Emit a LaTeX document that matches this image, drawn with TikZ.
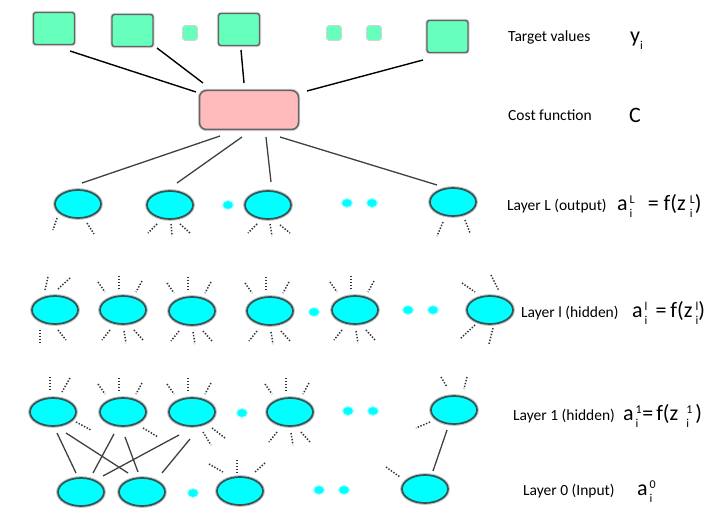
\documentclass[tikz,border=0pt]{standalone}
\usepackage{fontspec}
\setmainfont{Carlito}
\usetikzlibrary{calc,shapes.geometric}
\definecolor{mint}{RGB}{102,255,187}
\definecolor{pinkbox}{RGB}{255,187,187}
\definecolor{neur}{RGB}{0,255,255}
\definecolor{rim}{RGB}{50,85,85}
\definecolor{boxrim}{RGB}{100,100,100}
\newcommand\stub[3]{\draw[stubline] ($(#1)+(#2)$) -- ($(#1)+(#3)$);}
\newcommand\topstubs[1]{\stub{#1}{-25,-28}{-18,-18}\stub{#1}{-4,-34}{-4,-21}\stub{#1}{19,-29}{13,-18}}
\newcommand\botstubs[1]{\stub{#1}{-13,20}{-21,30}\stub{#1}{1,21}{3,33}\stub{#1}{11,20}{20,30}}
\newcommand\smallf{\fontsize{12}{12}\selectfont}
\newcommand\supsub[2]{\rlap{\raisebox{-7pt}{\smallf #2}}\raisebox{7pt}{\smallf #1}}
\begin{document}
\begin{tikzpicture}[x=1pt,y=-1pt,
  target/.style={rectangle, rounded corners=2.5pt, fill=mint, draw=boxrim, line width=1.4pt, minimum width=41pt, minimum height=32pt, inner sep=0pt, preaction={draw=gray!35, line width=3.2pt}},
  tdot/.style={rectangle, rounded corners=3pt, fill=mint, draw=gray!35, line width=0.8pt, minimum size=15pt, inner sep=0pt},
  cost/.style={rectangle, rounded corners=7pt, fill=pinkbox, draw=boxrim, line width=1.5pt, minimum width=99pt, minimum height=39pt, inner sep=0pt, preaction={draw=gray!35, line width=3.4pt}},
  neuron/.style={ellipse, fill=neur, draw=rim, line width=1.7pt, minimum width=46pt, minimum height=28pt, inner sep=0pt, preaction={draw=gray!45, line width=3.8pt}},
  ndot/.style={ellipse, fill=neur, draw=neur!35, line width=1pt, minimum width=11pt, minimum height=9pt, inner sep=0pt},
  stubline/.style={draw=black!80, line width=1.5pt, dash pattern=on 1.4pt off 1.6pt},
  wire/.style={draw=black, line width=1.4pt},
  gwire/.style={draw=black!75, line width=1.3pt},
  lbl/.style={anchor=base west, font=\fontsize{15.5}{18}\selectfont, inner sep=0pt},
  mth/.style={anchor=base west, font=\fontsize{22}{24}\selectfont, inner sep=0pt}]
\useasboundingbox (0,0) rectangle (717,524);

% targets
\node[target] (t1) at (54,28.5) {};
\node[target] (t2) at (132.5,30.5) {};
\node[tdot] (td1) at (190,33) {};
\node[target] (t3) at (239,29.5) {};
\node[tdot] (td2) at (334,33) {};
\node[tdot] (td3) at (374,33) {};
\node[target] (t4) at (447.5,36.5) {};
% cost
\node[cost] (cost) at (249,110) {};

% layer L
\node[neuron] (L1) at (78,204) {};
\node[neuron] (L2) at (170,205) {};
\node[ndot] (Ld1) at (228,205) {};
\node[neuron] (L3) at (268,205) {};
\node[ndot] (Ld2) at (347,203) {};
\node[ndot] (Ld3) at (372,203) {};
\node[neuron] (L4) at (453,202) {};

% layer l
\node[neuron] (l1) at (55,310) {};
\node[neuron] (l2) at (123,310) {};
\node[neuron] (l3) at (192,311) {};
\node[neuron] (l4) at (270,311) {};
\node[ndot] (ld1) at (314,312) {};
\node[neuron] (l5) at (355,310) {};
\node[ndot] (ld2) at (408,310) {};
\node[ndot] (ld3) at (433,310) {};
\node[neuron] (l6) at (490,310) {};

% layer 1
\node[neuron] (a1) at (53,412) {};
\node[neuron] (a2) at (123,412) {};
\node[neuron] (a3) at (192,412) {};
\node[ndot] (ad1) at (242,413) {};
\node[neuron] (a4) at (290,412) {};
\node[ndot] (ad2) at (348,411) {};
\node[ndot] (ad3) at (373,411) {};
\node[neuron] (a5) at (454,410) {};

% layer 0
\node[neuron] (b1) at (81,492) {};
\node[neuron] (b2) at (142,492) {};
\node[ndot] (bd1) at (193,493) {};
\node[neuron] (b3) at (240,491) {};
\node[ndot] (bd2) at (319,490) {};
\node[ndot] (bd3) at (344,490) {};
\node[neuron] (b4) at (425,489) {};

% target -> cost
\draw[wire] ($(t1)+(16,22.5)$) -- ($(cost)+(-53,-18)$);
\draw[wire] ($(t2)+(24.5,17.5)$) -- ($(cost)+(-46,-27)$);
\draw[wire] ($(t3)+(2,20.5)$) -- ($(cost)+(-5,-27)$);
\draw[wire] ($(t4)+(-24.5,23.5)$) -- ($(cost)+(58,-19)$);

% cost -> layer L
\draw[gwire] ($(cost)+(-29,26)$) -- ($(L1)+(4,-21)$);
\draw[gwire] ($(cost)+(-7,27)$) -- ($(L2)+(7,-22)$);
\draw[gwire] ($(cost)+(17,27)$) -- ($(L3)+(3,-23)$);
\draw[gwire] ($(cost)+(31,27)$) -- ($(L4)+(-16,-17)$);

% layer 1 -> layer 0
\draw[gwire] ($(a1)+(4,21)$) -- ($(b1)+(-5,-19)$);
\draw[gwire] ($(a1)+(13,21)$) -- ($(b2)+(-14,-19)$);
\draw[gwire] ($(a2)+(-9,22)$) -- ($(b1)+(12,-19)$);
\draw[gwire] ($(a2)+(2,25)$) -- ($(b2)+(-4,-20)$);
\draw[gwire] ($(a3)+(-13,23)$) -- ($(b1)+(22,-16)$);
\draw[gwire] ($(a3)+(-2,27)$) -- ($(b2)+(20,-19)$);
\draw[gwire] ($(a5)+(-7,20)$) -- ($(b4)+(8,-18)$);

% stubs layer L
\stub{L1}{-21,14}{-25,26}\stub{L1}{9,19}{16,30}
\stub{L2}{-13,19}{-22,28}\stub{L2}{1,19}{2,31}\stub{L2}{10,19}{20,28}
\stub{L3}{-11,19}{-20,28}\stub{L3}{2,19}{4,31}\stub{L3}{12,20}{22,28}
\stub{L4}{-10,20}{-16,34}\stub{L4}{12,18}{17,31}

% stubs layer l
\stub{l1}{-7,-33}{-10,-20}\stub{l1}{3,-21}{15,-32}\stub{l1}{-15,20}{-15,33}\stub{l1}{3,20}{11,30}
\topstubs{l2}\botstubs{l2}
\topstubs{l3}\botstubs{l3}
\topstubs{l4}\botstubs{l4}
\topstubs{l5}\botstubs{l5}
\stub{l6}{-28,-27}{-15,-18}\stub{l6}{1,-35}{9,-19}\stub{l6}{-15,15}{-30,29}\stub{l6}{3,18}{-1,34}

% stubs layer 1
\stub{a1}{-3,-35}{-3,-22}\stub{a1}{17,-34}{9,-20}\stub{a1}{23,10}{38,18}
\topstubs{a2}\stub{a2}{20,16}{35,25}
\topstubs{a3}\stub{a3}{11,20}{19,33}\stub{a3}{20,16}{33,26}
\topstubs{a4}\botstubs{a4}
\stub{a5}{-13,-33}{-7,-23}\stub{a5}{13,-33}{10,-21}\stub{a5}{-24,12}{-38,18}

% stubs layer 0
\stub{b3}{-31,-27}{-17,-19}\stub{b3}{-3,-31}{-3,-18}\stub{b3}{25,-28}{15,-19}
\stub{b4}{-39,-22}{-25,-12}

% labels
\node[lbl] (n1) at (508,42) {Target values};
\node[lbl] (n2) at (508,121) {Cost function};
\node[lbl] (n3) at (507,210) {Layer L (output)};
\node[lbl] (n4) at (521,317) {Layer l (hidden)};
\node[lbl] (n5) at (513,420) {Layer 1 (hidden)};
\node[lbl] (n6) at (523,495) {Layer 0 (Input)};

\node[mth] (f1) at (630,43) {y\raisebox{-7pt}{\smallf i}};
\node[mth] (f2) at (629,123) {C};
\node[mth] (f3) at (617,210) {a\hspace{2pt}\supsub{L}{i}\hspace{13pt}=\hspace{5pt}f(z\hspace{4pt}\supsub{L}{i})};
\node[mth] (f4) at (632,317) {a\hspace{2pt}\supsub{l}{i}\hspace{8pt}=\hspace{4pt}f(z\hspace{3pt}\supsub{l}{i})};
\node[mth] (f5) at (623,420) {a\hspace{2pt}\supsub{1}{i}\hspace{0.5pt}=\hspace{3pt}f(z\hspace{8pt}\supsub{1}{i}\hspace{3pt})};
\node[mth] (f6) at (637,495) {a\hspace{2pt}\supsub{0}{i}};
\end{tikzpicture}
\end{document}
